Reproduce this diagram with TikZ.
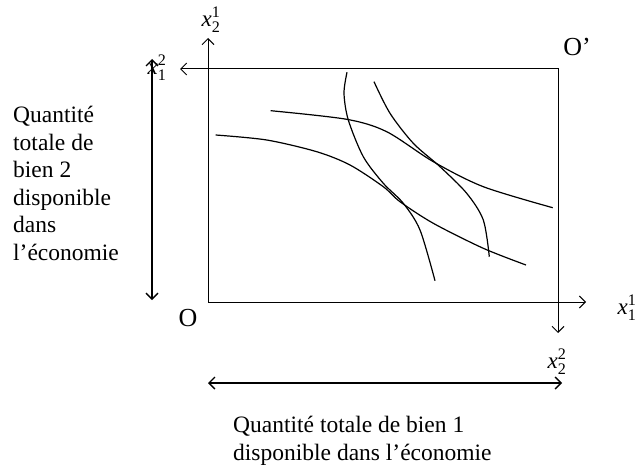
\documentclass[tikz,border=0pt]{standalone}
\usepackage{amsmath}
\usepackage{fontspec}
\setmainfont{Liberation Serif}
\usetikzlibrary{arrows.meta}

\newcommand{\xlab}[2]{\textit{x}$_{\text{#1}}^{\text{#2}}$}

\begin{document}
\begin{tikzpicture}[x=1pt,y=-1pt,
    tip/.tip={Straight Barb[length=6pt,width=12pt]},
    axis/.style={line width=1pt,-tip},
    both/.style={line width=1.4pt,tip-tip},
    courbe/.style={line width=1.2pt},
    lbl/.style={inner sep=0pt,font=\fontsize{23}{27}\selectfont},
    txt/.style={inner sep=0pt,align=left,font=\fontsize{23.5}{27.5}\selectfont}]
    \useasboundingbox (0,0) rectangle (636,468);
    % box of the two origins
    \coordinate (O) at (208,302);
    \coordinate (Op) at (558,69);
    \draw[line width=1pt] (O) rectangle (Op);
    % axes of consumer 1 and consumer 2
    \coordinate (e11) at (586,302);
    \coordinate (e21) at (208,38);
    \coordinate (e12) at (180,69);
    \coordinate (e22) at (558,333);
    \draw[axis] (O) -- (e11);
    \draw[axis] (O) -- (e21);
    \draw[axis] (Op) -- (e12);
    \draw[axis] (Op) -- (e22);
    \node[lbl] (l11) at (627,308) {\xlab{1}{1}};
    \node[lbl] (l21) at (211,20) {\xlab{2}{1}};
    \node[lbl] (l12) at (157,68) {\xlab{1}{2}};
    \node[lbl] (l22) at (557,362) {\xlab{2}{2}};
    \node[lbl,font=\fontsize{26}{30}\selectfont] (nO) at (188,318) {O};
    \node[lbl,font=\fontsize{26}{30}\selectfont] (nOp) at (577,47) {O’};
    % total quantities
    \coordinate (v1) at (152,59);
    \coordinate (v2) at (152,300);
    \draw[both] (v1) -- (v2);
    \coordinate (h1) at (208,383);
    \coordinate (h2) at (562,383);
    \draw[both] (h1) -- (h2);
    \node[txt,anchor=north west] (q2) at (13,106)
        {Quantité\\totale de\\bien 2\\disponible\\dans\\l’économie};
    \node[txt,anchor=north west] (q1) at (233,416)
        {Quantité totale de bien 1\\disponible dans l’économie};
    % indifference curves
    \draw[courbe] plot[smooth] coordinates {(215.7,135) (266.7,140) (316.7,151.7)
        (350,165) (383.3,186.7) (400,201.7) (433.3,223.3) (483.3,248.3) (526,265)};
    \draw[courbe] plot[smooth] coordinates {(270.7,110.7) (346.7,119.3) (386.7,131.7)
        (433.3,161.7) (483.3,186.7) (552.7,207.7)};
    \draw[courbe] plot[smooth] coordinates {(347,72.3) (344,93.3) (348.3,120)
        (363.3,156.7) (383.3,183.3) (403.3,203.3) (420,230) (435,280.7)};
    \draw[courbe] plot[smooth] coordinates {(374,81.7) (390,113.3) (413.3,143.3)
        (440,166.7) (466.7,193.3) (483.3,220) (489.3,256.7)};
\end{tikzpicture}
\end{document}
